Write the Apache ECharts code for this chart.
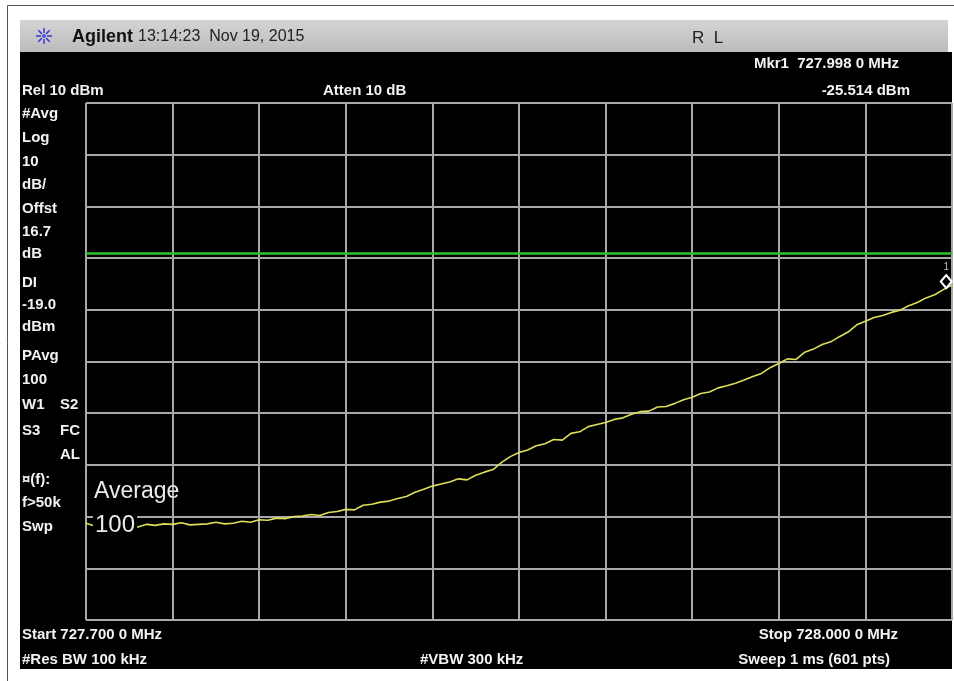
<!DOCTYPE html>
<html>
<head>
<meta charset="utf-8">
<script src="https://cdn.jsdelivr.net/npm/echarts@6/dist/echarts.min.js"></script>
<style>html,body{margin:0;padding:0;background:#fff}#c{width:954px;height:681px}</style>
</head>
<body>
<div id="c"></div>
<script>
// Frequencies (MHz) of trace points
var freqs = [727.700,727.703,727.706,727.709,727.712,727.715,727.718,727.721,727.724,727.727,
727.730,727.733,727.736,727.739,727.742,727.745,727.748,727.751,727.754,727.757,
727.760,727.763,727.766,727.769,727.772,727.775,727.778,727.781,727.784,727.787,
727.790,727.793,727.796,727.799,727.802,727.805,727.808,727.811,727.814,727.817,
727.820,727.823,727.826,727.829,727.832,727.835,727.838,727.841,727.844,727.847,
727.850,727.853,727.856,727.859,727.862,727.865,727.868,727.871,727.874,727.877,
727.880,727.883,727.886,727.889,727.892,727.895,727.898,727.901,727.904,727.907,
727.910,727.913,727.916,727.919,727.922,727.925,727.928,727.931,727.934,727.937,
727.940,727.943,727.946,727.949,727.952,727.955,727.958,727.961,727.964,727.967,
727.970,727.973,727.976,727.979,727.982,727.985,727.988,727.991,727.994,727.997,728.000];
// Trace levels (dBm)
var levels = [-71.3,-71.8,-71.6,-71.9,-71.7,-71.8,-72.0,-71.5,-71.7,-71.4,
-71.5,-71.2,-71.6,-71.5,-71.4,-71.1,-71.4,-71.3,-70.9,-71.1,
-70.6,-70.7,-70.3,-70.4,-70.0,-69.9,-69.6,-69.8,-69.2,-69.0,
-68.6,-68.7,-67.8,-67.6,-67.2,-67.0,-66.5,-66.1,-65.3,-64.7,
-64.1,-63.7,-63.3,-62.7,-62.9,-62.0,-61.4,-60.9,-59.5,-58.4,
-57.6,-57.1,-56.3,-55.9,-55.1,-55.2,-53.9,-53.6,-52.6,-52.2,
-51.8,-51.2,-50.9,-50.2,-49.7,-49.6,-48.8,-48.7,-48.1,-47.4,
-46.9,-46.2,-45.9,-45.1,-44.7,-44.2,-43.6,-42.9,-42.3,-41.2,
-40.4,-39.5,-39.6,-38.2,-37.6,-36.7,-36.2,-35.2,-34.3,-32.9,
-32.2,-31.5,-31.1,-30.5,-30.1,-29.2,-28.6,-27.7,-27.1,-26.1,-25.2];
var startMHz = 727.700, stopMHz = 728.000;
var refLevel = 10, bottomLevel = -90, dbPerDiv = 10;
var displayLine = -19.0;
var markerMHz = 727.998, markerLevel = -25.514;

var leftNotes = [['#Avg',114],['Log',138],['10',162],['dB/',185],['Offst',209],['16.7',232],['dB',254],
  ['DI',283],['-19.0',305],['dBm',327],['PAvg',356],['100',380],['W1',405],['S3',431],['\u00a4(f):',480],['f>50k',503],['Swp',527]];
var leftNotes2 = [['S2',405],['FC',431],['AL',455]];

var toK = function(f){ return Math.round((f - startMHz) * 1000 * 1000) / 1000; };
var spanK = toK(stopMHz);
var data = freqs.map(function(f, i){ return [toK(f), levels[i]]; });

var txt = function(x, y, s, opt){
  opt = opt || {};
  return {type:'text', x:x, y:y, z:100, silent:true, style:{
    text:s, fill:opt.fill||'#f2f2f2', font:(opt.weight||'bold')+' '+(opt.size||15)+'px "Liberation Sans", Arial, sans-serif',
    textAlign:opt.align||'left', textVerticalAlign:'middle',
    backgroundColor:opt.bg, padding:opt.pad}};
};

var graphics = [
  {type:'rect', z:-20, shape:{x:7.5,y:5.5,width:1000,height:1000}, style:{fill:'#fff', stroke:'#555', lineWidth:1}},
  {type:'rect', z:-10, shape:{x:20,y:20,width:928,height:32}, style:{fill:{type:'linear',x:0,y:0,x2:0,y2:1,colorStops:[{offset:0,color:'#d4d4d4'},{offset:1,color:'#bcbcbc'}]}}},
  {type:'rect', z:-10, shape:{x:20,y:52,width:932,height:617}, style:{fill:'#000'}},
  txt(72, 37, 'Agilent', {fill:'#111', size:18}),
  txt(138, 37, '13:14:23  Nov 19, 2015', {fill:'#222', size:16, weight:'normal'}),
  txt(692, 38, 'R  L', {fill:'#222', size:17, weight:'normal'}),
  txt(899, 64, 'Mkr1  727.998 0 MHz', {align:'right'}),
  txt(22, 91, 'Rel 10 dBm'),
  txt(323, 91, 'Atten 10 dB'),
  txt(910, 91, '-25.514 dBm', {align:'right'}),
  txt(22, 635, 'Start 727.700 0 MHz'),
  txt(898, 635, 'Stop 728.000 0 MHz', {align:'right'}),
  txt(22, 660, '#Res BW 100 kHz'),
  txt(420, 660, '#VBW 300 kHz'),
  txt(890, 660, 'Sweep 1 ms (601 pts)', {align:'right'}),
  txt(94, 492, 'Average', {size:23, weight:'normal', fill:'#eaeaea'}),
  txt(93, 525, '100', {size:24, weight:'normal', fill:'#eaeaea', bg:'#000', pad:[0,2,0,2]})
];
leftNotes.forEach(function(n){ graphics.push(txt(22, n[1], n[0])); });
leftNotes2.forEach(function(n){ graphics.push(txt(60, n[1], n[0])); });
// Agilent spark logo
var cx = 44, cy = 36;
for (var a = 0; a < 8; a++) {
  var ang = a * Math.PI / 4;
  graphics.push({type:'line', z:100, silent:true, shape:{x1:cx+Math.cos(ang)*3, y1:cy+Math.sin(ang)*3, x2:cx+Math.cos(ang)*8, y2:cy+Math.sin(ang)*8},
    style:{stroke:'#3a3ad0', lineWidth:1.5}});
}
graphics.push({type:'circle', z:100, silent:true, shape:{cx:cx, cy:cy, r:2}, style:{fill:'#5050e0'}});

var chart = echarts.init(document.getElementById('c'), null, {renderer:'canvas'});
chart.setOption({
  backgroundColor:'#fff',
  animation:false,
  graphic:graphics,
  grid:{left:86, top:103, width:866, height:517, show:false},
  xAxis:{type:'value', min:0, max:spanK, interval:spanK/10,
    axisLine:{show:false}, axisTick:{show:false}, axisLabel:{show:false},
    splitLine:{show:true, lineStyle:{color:'#a8a8a8', width:2}}},
  yAxis:{type:'value', min:bottomLevel, max:refLevel, interval:dbPerDiv,
    axisLine:{show:false}, axisTick:{show:false}, axisLabel:{show:false},
    splitLine:{show:true, lineStyle:{color:'#a8a8a8', width:2}}},
  series:[{
    type:'line', data:data, symbol:'none', smooth:false,
    lineStyle:{color:'#dede5a', width:1.6},
    markLine:{silent:true, symbol:'none', label:{show:false},
      lineStyle:{color:'#2fbf2f', width:2.5, type:'solid'},
      data:[{yAxis:displayLine}]},
    markPoint:{silent:true, data:[{coord:[toK(markerMHz), markerLevel], symbol:'diamond', symbolSize:[11,13], symbolOffset:[0,-5],
      itemStyle:{color:'#000', borderColor:'#fff', borderWidth:2},
      label:{show:true, position:'top', formatter:'1', color:'#bbb', fontSize:10, distance:2}}]}
  }]
});
</script>
</body>
</html>
